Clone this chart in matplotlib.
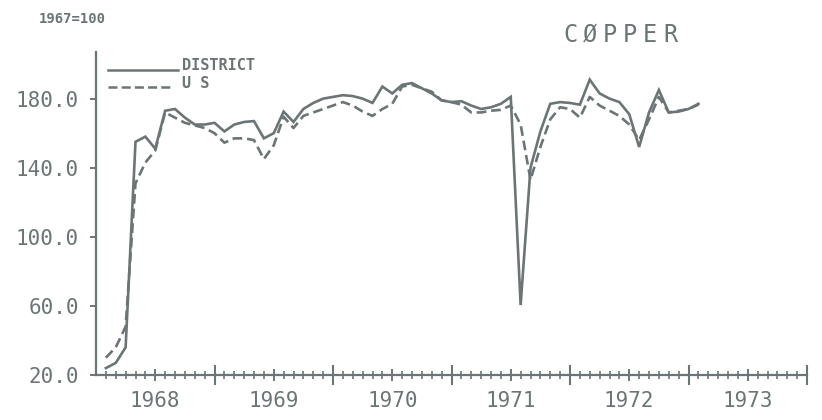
import matplotlib
matplotlib.use('Agg')
import matplotlib.pyplot as plt
from matplotlib.lines import Line2D
import numpy as np
import pandas as pd

# monthly copper price index, Jan 1968 - Jan 1973 (1967=100)
months = pd.date_range('1968-01-01', periods=61, freq='MS')
district = [24, 27, 36, 155, 158, 151, 173, 174, 169, 165, 165, 166,
            161, 165, 166.5, 167, 157, 160, 172.5, 166.5, 174, 177.5, 180, 181,
            182, 181.5, 180, 177.5, 187, 183, 188, 189, 186, 183, 179, 178,
            178.5, 176, 174, 175, 177, 181, 60.5, 140, 161, 177, 178, 177.5,
            176.5, 191, 183, 180, 178, 171, 152, 172, 185, 172, 172.5, 174, 177]
us = [30, 36, 48, 131, 143, 150, 172, 169, 166, 164.5, 163, 160,
      154.5, 157, 157, 156, 145, 153, 169.5, 163, 170, 172, 174, 176,
      178, 176, 172.5, 170, 174, 177, 187, 188, 186, 184, 179, 178,
      176.5, 172, 172, 173, 173.5, 176, 165, 133, 152, 168, 175, 174,
      169, 181, 176, 173, 170, 165, 156, 168, 181, 172, 173, 174, 176.5]
years = [1968, 1969, 1970, 1971, 1972, 1973]
y_ticks = [20, 60, 100, 140, 180]

INK = '#6c7575'
MONO = 'DejaVu Sans Mono'
W, H = 822, 420

plt.rcParams['lines.scale_dashes'] = False

# each month plotted at its month-end tick
x = months.year + months.month / 12.0

fig = plt.figure(figsize=(W / 100, H / 100), dpi=100)
fig.patch.set_facecolor('white')
ax = fig.add_axes([96 / W, 45 / H, 711 / W, 323 / H])

ax.plot(x, district, color=INK, lw=1.9, solid_joinstyle='miter')
ax.plot(x, us, color=INK, lw=1.9, dashes=(7, 3.5))

ax.set_xlim(1968, 1974)
ax.set_ylim(20, 207)

for side in ('top', 'right'):
    ax.spines[side].set_visible(False)
for side in ('left', 'bottom'):
    ax.spines[side].set_color(INK)
    ax.spines[side].set_linewidth(1.6)

ax.set_yticks(y_ticks)
ax.set_yticklabels(['%.1f' % v for v in y_ticks], family=MONO, fontsize=15, color=INK)
ax.tick_params(axis='y', direction='out', length=4.5, width=1.4, color=INK, pad=8)

# year labels under the mid-year ticks, monthly minor ticks
ax.set_xticks([yr + 0.5 for yr in years])
ax.set_xticklabels([str(yr) for yr in years], family=MONO, fontsize=15, color=INK)
ax.set_xticks(1968 + np.arange(1, 72) / 12.0, minor=True)
ax.tick_params(axis='x', which='major', direction='inout', length=9, width=1.4,
               color=INK, pad=7)
ax.tick_params(axis='x', which='minor', direction='inout', length=6, width=1.2,
               color=INK)

# longer ticks on the year boundaries
sec = ax.secondary_xaxis('bottom')
sec.set_xticks(years[1:] + [1974])
sec.set_xticklabels([])
sec.spines['bottom'].set_visible(False)
sec.tick_params(direction='inout', length=14, width=1.5, color=INK)

# legend drawn by hand
fig.add_artist(Line2D([108 / W, 178 / W], [1 - 70 / H, 1 - 70 / H],
                      color=INK, lw=1.8))
fig.add_artist(Line2D([108 / W, 174 / W], [1 - 87 / H, 1 - 87 / H],
                      color=INK, lw=1.8, dashes=(6.5, 3)))
fig.text(182 / W, 1 - 65.5 / H, 'DISTRICT', family=MONO, fontweight='bold',
         fontsize=11, color=INK, va='center', ha='left')
fig.text(182 / W, 1 - 83 / H, 'U S', family=MONO, fontweight='bold',
         fontsize=11, color=INK, va='center', ha='left')

fig.text(39 / W, 1 - 19 / H, '1967=100', family=MONO, fontweight='bold',
         fontsize=10, color=INK, va='center', ha='left')

# spaced-out title
for i, ch in enumerate('CØPPER'):
    fig.text((570 + 20 * i) / W, 1 - 35 / H, ch, family=MONO, fontsize=17,
             color=INK, va='center', ha='center')

fig.savefig('out.png', dpi=100, facecolor='white')
